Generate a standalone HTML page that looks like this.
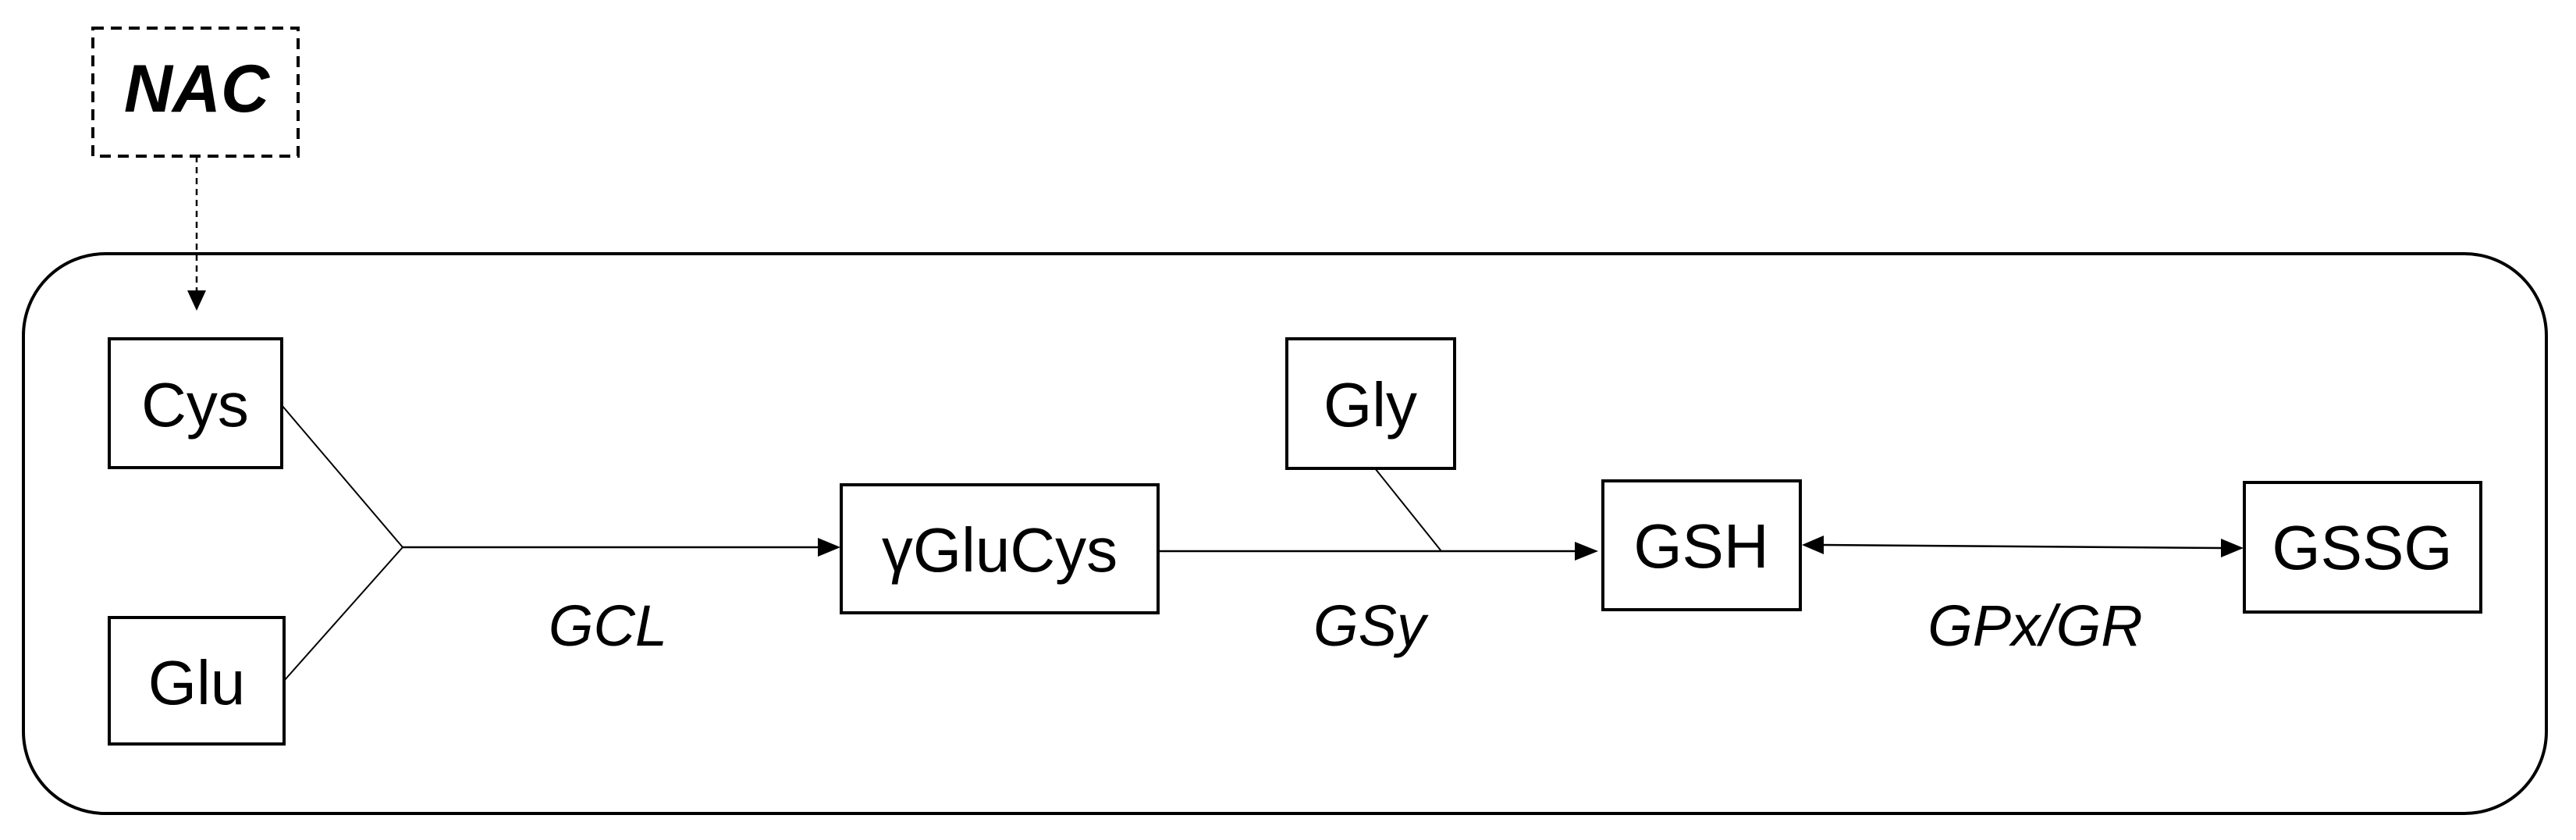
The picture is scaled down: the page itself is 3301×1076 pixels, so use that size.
<!DOCTYPE html>
<html><head><meta charset="utf-8"><style>
html,body{margin:0;padding:0;background:#fff;}
svg{display:block;}
text{font-family:"Liberation Sans",sans-serif;fill:#000;}
</style></head><body>
<svg width="3301" height="1076" viewBox="0 0 3301 1076" xmlns="http://www.w3.org/2000/svg">
<defs>
<marker id="ah" markerWidth="10" markerHeight="10" refX="9" refY="5" orient="auto" markerUnits="userSpaceOnUse" viewBox="0 0 10 10">
</marker>
</defs>
<!-- outer rounded rect -->
<rect x="30" y="325" width="3233" height="717" rx="105" ry="105" fill="none" stroke="#000" stroke-width="4"/>
<!-- NAC -->
<rect x="119" y="36" width="263" height="164" fill="none" stroke="#000" stroke-width="4" stroke-dasharray="14,9"/>
<text x="252" y="143" font-size="86" font-weight="bold" font-style="italic" text-anchor="middle">NAC</text>
<line x1="252" y1="200" x2="252" y2="372" stroke="#000" stroke-width="2.5" stroke-dasharray="8,6"/>
<polygon points="240,372 264,372 252,398" fill="#000"/>
<!-- boxes -->
<rect x="140" y="434" width="221" height="165" fill="none" stroke="#000" stroke-width="4"/>
<text x="250" y="546" font-size="80" text-anchor="middle">Cys</text>
<rect x="140" y="791" width="224" height="162" fill="none" stroke="#000" stroke-width="4"/>
<text x="252" y="902" font-size="80" text-anchor="middle">Glu</text>
<rect x="1078" y="621" width="406" height="164" fill="none" stroke="#000" stroke-width="4"/>
<text x="1281" y="732" font-size="80" text-anchor="middle">γGluCys</text>
<rect x="1649" y="434" width="215" height="166" fill="none" stroke="#000" stroke-width="4"/>
<text x="1756" y="546" font-size="80" text-anchor="middle">Gly</text>
<rect x="2054" y="616" width="253" height="165" fill="none" stroke="#000" stroke-width="4"/>
<text x="2180" y="727" font-size="80" text-anchor="middle">GSH</text>
<rect x="2876" y="618" width="303" height="166" fill="none" stroke="#000" stroke-width="4"/>
<text x="3027" y="729" font-size="80" text-anchor="middle">GSSG</text>
<!-- connectors -->
<line x1="361" y1="519" x2="516" y2="701" stroke="#000" stroke-width="2"/>
<line x1="364" y1="872" x2="516" y2="701" stroke="#000" stroke-width="2"/>
<line x1="516" y1="701" x2="1050" y2="701" stroke="#000" stroke-width="2.5"/>
<polygon points="1048,689 1077,701 1048,713" fill="#000"/>
<line x1="1484" y1="706" x2="2020" y2="706" stroke="#000" stroke-width="2.5"/>
<polygon points="2018,694 2048,706 2018,718" fill="#000"/>
<line x1="1762" y1="600" x2="1847" y2="706" stroke="#000" stroke-width="2"/>
<line x1="2335" y1="698" x2="2848" y2="702" stroke="#000" stroke-width="2.5"/>
<polygon points="2337,686 2309,698 2337,710" fill="#000"/>
<polygon points="2846,690 2875,702 2846,714" fill="#000"/>
<!-- labels -->
<text x="779" y="827" font-size="74" font-style="italic" text-anchor="middle">GCL</text>
<text x="1755" y="827" font-size="74" font-style="italic" text-anchor="middle">GSy</text>
<text x="2608" y="827" font-size="74" font-style="italic" text-anchor="middle">GPx/GR</text>
</svg>
</body></html>
